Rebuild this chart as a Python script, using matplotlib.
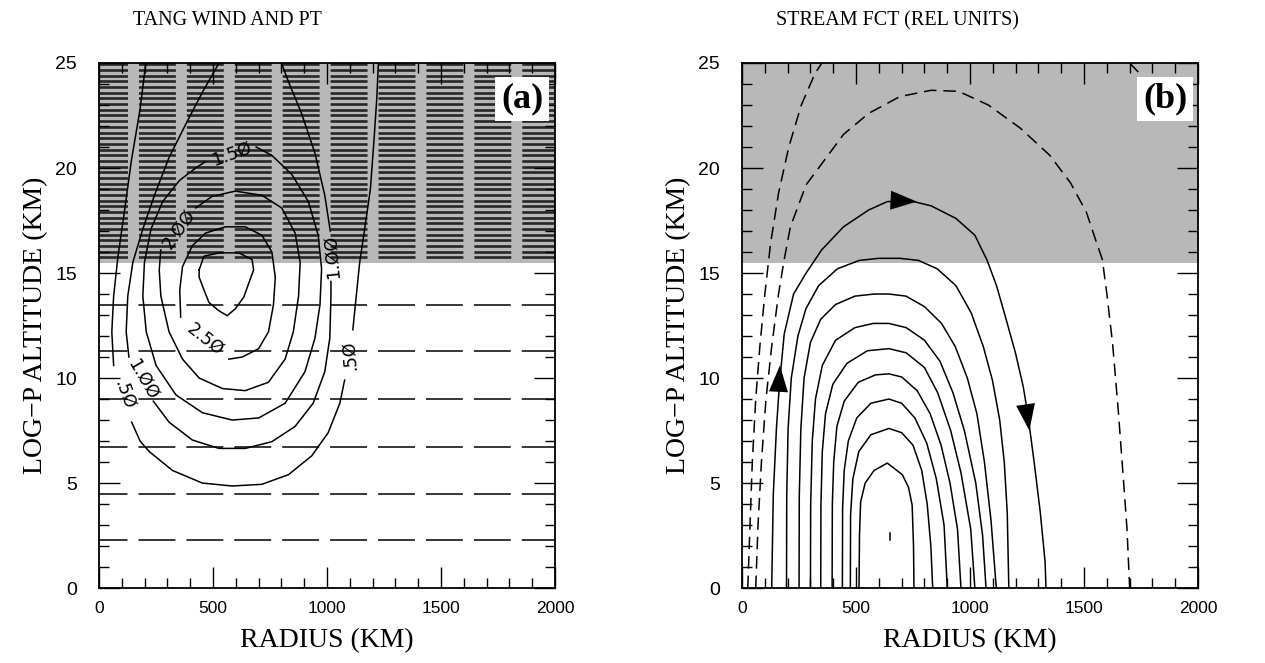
import matplotlib.pyplot as plt
from matplotlib.ticker import MultipleLocator
from matplotlib.transforms import ScaledTranslation

plt.rcParams['lines.scale_dashes'] = False

SERIF = ['Liberation Serif', 'DejaVu Serif']
SANS = ['Liberation Sans', 'DejaVu Sans']

# ---------------------------------------------------------------- panel (a)
# tangential wind contours, (radius km, altitude km) vertices read off the
# figure; each contour is split into pieces where its value label sits
WIND_050 = [
    [(205, 25), (180, 22.8), (141, 20.3), (111, 17.9), (83, 15.8), (64, 13.9),
     (56, 12.2), (64, 10.6)],
    [(143, 7.9), (180, 7.0), (220, 6.5), (322, 5.6), (453, 5.0), (584, 4.86),
     (714, 4.94), (831, 5.4), (933, 6.3), (1005, 7.4), (1056, 8.8), (1077, 9.9)],
    [(1113, 12.3), (1128, 13.9), (1143, 15.5), (1165, 17.1), (1190, 19.0),
     (1205, 21.2), (1218, 23.3), (1225, 25)],
]
WIND_100 = [
    [(526, 25), (453, 23.6), (381, 22.1), (307, 20.5), (243, 18.7), (192, 17.1),
     (148, 15.5), (126, 13.9), (119, 12.2), (131, 11.0)],
    [(238, 8.9), (307, 7.9), (409, 7.05), (526, 6.65), (641, 6.65), (758, 6.97),
     (860, 7.7), (939, 8.8), (990, 10.3), (1012, 11.9), (1017, 13.9), (1017, 14.6)],
    [(1014, 17.0), (990, 18.7), (947, 20.7), (888, 22.6), (831, 24.1), (800, 25)],
]
WIND_150 = [
    [(689, 21.0), (758, 20.6), (845, 19.7), (918, 18.4), (961, 16.8), (976, 15.2),
     (969, 13.5), (947, 11.9), (903, 10.3), (816, 8.8), (700, 8.1), (584, 8.0),
     (453, 8.35), (337, 9.2), (250, 10.6), (207, 12.2), (192, 13.9), (199, 15.5),
     (228, 17.1), (279, 18.4), (352, 19.4), (424, 20.0), (466, 20.3)],
]
WIND_200 = [
    [(271, 16.1), (264, 15.15), (271, 13.9), (307, 12.2), (366, 10.9), (439, 10.0),
     (541, 9.5), (641, 9.4), (743, 9.8), (816, 10.9), (852, 12.2), (875, 13.9),
     (882, 15.5), (860, 16.9), (801, 18.1), (714, 18.7), (598, 18.9), (496, 18.65),
     (424, 18.1)],
]
WIND_250 = [
    [(569, 10.9), (628, 11.0), (700, 11.4), (743, 12.2), (765, 13.5), (773, 14.8),
     (758, 16.0), (714, 16.8), (641, 17.2), (554, 17.2), (467, 16.9), (409, 16.3),
     (366, 15.3), (354, 14.2), (358, 12.9)],
]
WIND_300 = [
    [(439, 15.15), (460, 15.8), (526, 15.96), (613, 15.96), (671, 15.64),
     (678, 15.15), (656, 14.5), (635, 13.86), (598, 13.3), (562, 12.97),
     (526, 13.2), (482, 13.6), (460, 14.2), (439, 14.8), (439, 15.15)],
]
WIND_CONTOURS = [WIND_050, WIND_100, WIND_150, WIND_200, WIND_250, WIND_300]

# label text, radius, altitude, angle
WIND_LABELS = [
    ('.5Ø', 110, 9.2, -70), ('1.ØØ', 192, 9.95, -60), ('2.5Ø', 464, 11.85, -38),
    ('2.ØØ', 350, 17.1, 55), ('1.5Ø', 580, 20.65, 20), ('1.ØØ', 1020, 15.8, 95),
    ('.5Ø', 1098, 11.1, 95),
]

# potential temperature surfaces (dashed), km
PT_TROP = [2.27, 4.49, 6.74, 9.0, 11.3, 13.5]
PT_STRAT = [15.75, 16.02, 16.29, 16.56, 16.83, 17.10, 17.37, 17.64, 17.91, 18.18,
            18.45, 18.72, 18.99, 19.26, 19.53, 19.80, 20.07, 20.34, 20.61, 20.88,
            21.15, 21.42, 21.69, 21.96, 22.23, 22.50, 22.77, 23.04, 23.31, 23.58,
            23.85, 24.12, 24.39, 24.66, 24.93]
TROPOPAUSE = 15.5

# ---------------------------------------------------------------- panel (b)
PSI_POS = [
    [(130, 0), (137, 4.45), (151, 7.65), (164, 9.7), (185, 12.1), (226, 14.0),
     (281, 15.0), (349, 16.1), (445, 17.2), (555, 18.0), (637, 18.4), (733, 18.45),
     (829, 18.2), (938, 17.6), (1021, 16.8), (1075, 15.6), (1116, 14.4),
     (1158, 12.8), (1199, 11.2), (1233, 9.6), (1253, 8.3), (1281, 6.0),
     (1308, 3.6), (1329, 1.25), (1333, 0)],
    [(195, 0), (196, 4.4), (202, 7.6), (216, 10.0), (245, 12.0), (280, 13.3),
     (336, 14.4), (418, 15.2), (514, 15.6), (600, 15.7), (692, 15.7), (774, 15.6),
     (856, 15.2), (938, 14.4), (1005, 13.1), (1058, 11.5), (1098, 9.9),
     (1130, 8.0), (1150, 6.0), (1163, 3.6), (1170, 0)],
    [(250, 0), (251, 4.4), (258, 7.6), (272, 10.0), (300, 11.7), (345, 12.8),
     (410, 13.5), (495, 13.9), (580, 14.0), (644, 14.0), (719, 13.9), (800, 13.4),
     (875, 12.6), (935, 11.5), (988, 10.0), (1030, 8.3), (1063, 6.0),
     (1092, 3.2), (1115, 0)],
    [(300, 0), (301, 4.0), (308, 7.0), (322, 9.0), (352, 10.6), (410, 11.8),
     (495, 12.4), (575, 12.6), (644, 12.6), (720, 12.4), (800, 11.8), (868, 10.8),
     (925, 9.3), (975, 7.5), (1025, 5.0), (1055, 2.5), (1070, 0)],
    [(345, 0), (346, 4.0), (352, 6.5), (366, 8.3), (398, 9.7), (460, 10.7),
     (550, 11.3), (644, 11.4), (720, 11.2), (800, 10.5), (858, 9.3), (915, 7.5),
     (960, 5.5), (1003, 2.8), (1021, 0)],
    [(395, 0), (396, 4.0), (402, 6.0), (416, 7.7), (448, 8.9), (510, 9.8),
     (585, 10.15), (644, 10.2), (700, 10.05), (768, 9.4), (825, 8.3), (873, 6.8),
     (912, 5.0), (945, 2.8), (960, 0)],
    [(440, 0), (441, 3.8), (448, 5.6), (466, 7.0), (503, 8.1), (565, 8.8),
     (644, 9.0), (700, 8.8), (758, 8.1), (810, 6.9), (852, 5.2), (886, 3.0),
     (900, 0)],
    [(475, 0), (476, 3.5), (486, 5.2), (512, 6.5), (565, 7.3), (644, 7.6),
     (700, 7.4), (750, 6.8), (788, 5.6), (812, 4.0), (828, 2.0), (836, 0)],
    [(513, 0), (515, 2.5), (520, 4.1), (540, 5.0), (579, 5.6), (637, 5.95),
     (703, 5.4), (730, 4.8), (746, 3.95), (752, 2.0), (754, 0)],
    [(647, 2.3), (647, 2.6)],
]
PSI_NEG = [
    [(25, 0), (35, 3.0), (45, 6.0), (60, 9.0), (78, 11.5), (100, 14.0),
     (125, 16.4), (160, 18.8), (205, 21.0), (260, 23.0), (320, 24.5), (350, 25)],
    [(60, 0), (70, 3.0), (85, 6.0), (105, 9.0), (130, 11.5), (160, 14.0),
     (185, 15.65), (212, 17.2), (281, 19.2), (363, 20.4), (445, 21.6),
     (555, 22.6), (692, 23.4), (829, 23.7), (950, 23.65), (1080, 23.0),
     (1220, 21.9), (1350, 20.6), (1440, 19.3), (1510, 17.9), (1550, 16.6),
     (1580, 15.65), (1600, 14.0), (1625, 11.65), (1650, 8.45), (1672, 5.25),
     (1688, 2.85), (1700, 0)],
    [(1700, 25), (1735, 24.6), (1760, 24.2)],
]
# flow-direction arrows: (tail, head)
PSI_ARROWS = [((158, 9.0), (166, 10.6)), ((680, 18.45), (767, 18.4)),
              ((1240, 9.0), (1260, 7.5))]


def setup(ax, title):
    ax.set_xlim(0, 2000)
    ax.set_ylim(0, 25)
    ax.xaxis.set_major_locator(MultipleLocator(500))
    ax.xaxis.set_minor_locator(MultipleLocator(100))
    ax.yaxis.set_major_locator(MultipleLocator(5))
    ax.yaxis.set_minor_locator(MultipleLocator(1))
    ax.tick_params(which='both', direction='in', top=True, right=True, width=1)
    ax.tick_params(which='major', length=15)
    ax.tick_params(which='minor', length=7)
    ax.tick_params(axis='x', pad=9, labelsize=12.5)
    ax.tick_params(axis='y', pad=16, labelsize=14)
    for lab in ax.get_xticklabels() + ax.get_yticklabels():
        lab.set_family(SANS)
    # the "0" radius label sits a little right of its tick in the original
    first = ax.xaxis.get_major_ticks()[0].label1
    first.set_transform(first.get_transform()
                        + ScaledTranslation(0.12, 0, fig.dpi_scale_trans))
    for sp in ax.spines.values():
        sp.set_linewidth(1.3)
    ax.text(0.075, 1.08, title, transform=ax.transAxes, ha='left', va='center',
            fontsize=14.5, family=SERIF)
    ax.text(-0.14, 0.5, 'LOG\u2212P ALTITUDE (KM)', transform=ax.transAxes,
            rotation=90, ha='center', va='center', fontsize=20, family=SERIF)
    ax.text(0.5, -0.1, 'RADIUS (KM)', transform=ax.transAxes, ha='center',
            va='center', fontsize=20, family=SERIF)
    ax.axhspan(TROPOPAUSE, 25, color='#b8b8b8', lw=0, zorder=0)


def panel_tag(ax, tag):
    ax.text(1855, 23.3, tag, ha='center', va='center', fontsize=26,
            fontweight='bold', family=SERIF, zorder=6,
            bbox=dict(boxstyle='square,pad=0.15', fc='white', ec='none'))


fig = plt.figure(figsize=(12.65, 6.63), dpi=100)
ax1 = fig.add_axes([0.0783, 0.113, 0.3605, 0.792])
ax2 = fig.add_axes([0.5866, 0.113, 0.3605, 0.792])

# (a) tangential wind and potential temperature
setup(ax1, 'TANG WIND AND PT')
dash = (6.1, (26.6, 7.9))
for z in PT_TROP:
    ax1.plot([0, 2000], [z, z], color='black', lw=1.1, ls=dash, zorder=1)
for z in PT_STRAT:
    ax1.plot([0, 2000], [z, z], color='#262626', lw=1.9, ls=dash, zorder=1)
for contour in WIND_CONTOURS:
    for piece in contour:
        r, z = zip(*piece)
        ax1.plot(r, z, color='black', lw=1.1, zorder=3)
for txt, r, z, rot in WIND_LABELS:
    ax1.text(r, z, txt, ha='center', va='center', rotation=rot, fontsize=12.5,
             family=['DejaVu Sans'], zorder=4)
panel_tag(ax1, '(a)')

# (b) stream function
setup(ax2, 'STREAM FCT (REL UNITS)')
for line in PSI_POS:
    r, z = zip(*line)
    ax2.plot(r, z, color='black', lw=1.1, zorder=3)
for line in PSI_NEG:
    r, z = zip(*line)
    ax2.plot(r, z, color='black', lw=1.1, ls=(0, (9, 5)), zorder=3)
for tail, head in PSI_ARROWS:
    ax2.annotate('', xy=head, xytext=tail, zorder=4,
                 arrowprops=dict(arrowstyle='-|>,head_length=1.0,head_width=0.36',
                                 color='black', lw=0, shrinkA=0, shrinkB=0,
                                 mutation_scale=19))
panel_tag(ax2, '(b)')

fig.savefig('out.png', dpi=100)
